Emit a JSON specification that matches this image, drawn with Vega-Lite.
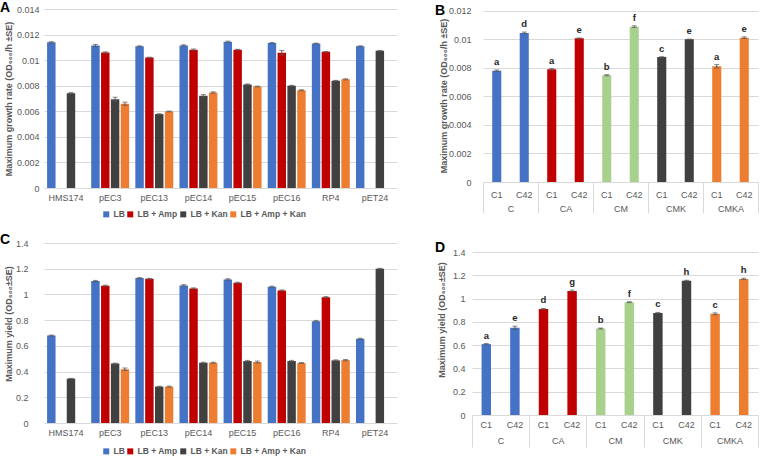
{
"$schema": "https://vega.github.io/schema/vega-lite/v6.json",
"padding": {"left": 0, "top": 1, "right": 0, "bottom": 0},
"background": "white",
"config": {
  "view": {"stroke": null},
  "font": "Liberation Sans",
  "axis": {"labelFont": "Liberation Sans", "titleFont": "Liberation Sans", "labelColor": "#595959", "titleColor": "#595959", "labelFontSize": 9, "titleFontSize": 9, "titleFontWeight": "bold", "gridColor": "#d9d9d9", "domainColor": "#d9d9d9", "ticks": false, "labelOverlap": false},
  "legend": {"labelFont": "Liberation Sans", "labelColor": "#595959", "labelFontSize": 8.5, "labelFontWeight": "bold"},
  "title": {"font": "Liberation Sans", "fontSize": 14, "fontWeight": "bold", "color": "#000000", "anchor": "start", "frame": "bounds", "baseline": "alphabetic"}
},
"datasets": {
  "rateA": [
    {"g": "HMS174", "s": "LB", "v": 0.01139, "lo": 0.01134, "hi": 0.01144},
    {"g": "HMS174", "s": "LB + Kan", "v": 0.00742, "lo": 0.00738, "hi": 0.00746},
    {"g": "pEC3", "s": "LB", "v": 0.01115, "lo": 0.01107, "hi": 0.01123},
    {"g": "pEC3", "s": "LB + Amp", "v": 0.0106, "lo": 0.01055, "hi": 0.01065},
    {"g": "pEC3", "s": "LB + Kan", "v": 0.00695, "lo": 0.0068, "hi": 0.0071},
    {"g": "pEC3", "s": "LB + Amp + Kan", "v": 0.00659, "lo": 0.00647, "hi": 0.00671},
    {"g": "pEC13", "s": "LB", "v": 0.01108, "lo": 0.01104, "hi": 0.01112},
    {"g": "pEC13", "s": "LB + Amp", "v": 0.0102, "lo": 0.01017, "hi": 0.01023},
    {"g": "pEC13", "s": "LB + Kan", "v": 0.00578, "lo": 0.00575, "hi": 0.00581},
    {"g": "pEC13", "s": "LB + Amp + Kan", "v": 0.00599, "lo": 0.00596, "hi": 0.00602},
    {"g": "pEC14", "s": "LB", "v": 0.01115, "lo": 0.0111, "hi": 0.0112},
    {"g": "pEC14", "s": "LB + Amp", "v": 0.01082, "lo": 0.01077, "hi": 0.01087},
    {"g": "pEC14", "s": "LB + Kan", "v": 0.00721, "lo": 0.00711, "hi": 0.00731},
    {"g": "pEC14", "s": "LB + Amp + Kan", "v": 0.00747, "lo": 0.00742, "hi": 0.00752},
    {"g": "pEC15", "s": "LB", "v": 0.01144, "lo": 0.01139, "hi": 0.01149},
    {"g": "pEC15", "s": "LB + Amp", "v": 0.01082, "lo": 0.01079, "hi": 0.01085},
    {"g": "pEC15", "s": "LB + Kan", "v": 0.0081, "lo": 0.00806, "hi": 0.00814},
    {"g": "pEC15", "s": "LB + Amp + Kan", "v": 0.00794, "lo": 0.00791, "hi": 0.00797},
    {"g": "pEC16", "s": "LB", "v": 0.01135, "lo": 0.01132, "hi": 0.01138},
    {"g": "pEC16", "s": "LB + Amp", "v": 0.01057, "lo": 0.01039, "hi": 0.01075},
    {"g": "pEC16", "s": "LB + Kan", "v": 0.008, "lo": 0.00797, "hi": 0.00803},
    {"g": "pEC16", "s": "LB + Amp + Kan", "v": 0.00764, "lo": 0.0076, "hi": 0.00768},
    {"g": "RP4", "s": "LB", "v": 0.0113, "lo": 0.01127, "hi": 0.01133},
    {"g": "RP4", "s": "LB + Amp", "v": 0.01065, "lo": 0.01062, "hi": 0.01068},
    {"g": "RP4", "s": "LB + Kan", "v": 0.00839, "lo": 0.00836, "hi": 0.00842},
    {"g": "RP4", "s": "LB + Amp + Kan", "v": 0.0085, "lo": 0.00846, "hi": 0.00854},
    {"g": "pET24", "s": "LB", "v": 0.01109, "lo": 0.01106, "hi": 0.01112},
    {"g": "pET24", "s": "LB + Kan", "v": 0.01073, "lo": 0.0107, "hi": 0.01076}
  ],
  "yieldC": [
    {"g": "HMS174", "s": "LB", "v": 0.68, "lo": 0.676, "hi": 0.684},
    {"g": "HMS174", "s": "LB + Kan", "v": 0.345, "lo": 0.343, "hi": 0.347},
    {"g": "pEC3", "s": "LB", "v": 1.104, "lo": 1.099, "hi": 1.109},
    {"g": "pEC3", "s": "LB + Amp", "v": 1.068, "lo": 1.064, "hi": 1.072},
    {"g": "pEC3", "s": "LB + Kan", "v": 0.462, "lo": 0.458, "hi": 0.466},
    {"g": "pEC3", "s": "LB + Amp + Kan", "v": 0.418, "lo": 0.408, "hi": 0.428},
    {"g": "pEC13", "s": "LB", "v": 1.127, "lo": 1.123, "hi": 1.131},
    {"g": "pEC13", "s": "LB + Amp", "v": 1.122, "lo": 1.119, "hi": 1.125},
    {"g": "pEC13", "s": "LB + Kan", "v": 0.283, "lo": 0.28, "hi": 0.286},
    {"g": "pEC13", "s": "LB + Amp + Kan", "v": 0.283, "lo": 0.279, "hi": 0.287},
    {"g": "pEC14", "s": "LB", "v": 1.07, "lo": 1.064, "hi": 1.076},
    {"g": "pEC14", "s": "LB + Amp", "v": 1.047, "lo": 1.043, "hi": 1.051},
    {"g": "pEC14", "s": "LB + Kan", "v": 0.469, "lo": 0.465, "hi": 0.473},
    {"g": "pEC14", "s": "LB + Amp + Kan", "v": 0.469, "lo": 0.465, "hi": 0.473},
    {"g": "pEC15", "s": "LB", "v": 1.117, "lo": 1.112, "hi": 1.122},
    {"g": "pEC15", "s": "LB + Amp", "v": 1.091, "lo": 1.087, "hi": 1.095},
    {"g": "pEC15", "s": "LB + Kan", "v": 0.482, "lo": 0.477, "hi": 0.487},
    {"g": "pEC15", "s": "LB + Amp + Kan", "v": 0.474, "lo": 0.466, "hi": 0.482},
    {"g": "pEC16", "s": "LB", "v": 1.06, "lo": 1.056, "hi": 1.064},
    {"g": "pEC16", "s": "LB + Amp", "v": 1.031, "lo": 1.027, "hi": 1.035},
    {"g": "pEC16", "s": "LB + Kan", "v": 0.482, "lo": 0.477, "hi": 0.487},
    {"g": "pEC16", "s": "LB + Amp + Kan", "v": 0.466, "lo": 0.462, "hi": 0.47},
    {"g": "RP4", "s": "LB", "v": 0.792, "lo": 0.786, "hi": 0.798},
    {"g": "RP4", "s": "LB + Amp", "v": 0.979, "lo": 0.975, "hi": 0.983},
    {"g": "RP4", "s": "LB + Kan", "v": 0.487, "lo": 0.483, "hi": 0.491},
    {"g": "RP4", "s": "LB + Amp + Kan", "v": 0.489, "lo": 0.484, "hi": 0.494},
    {"g": "pET24", "s": "LB", "v": 0.655, "lo": 0.651, "hi": 0.659},
    {"g": "pET24", "s": "LB + Kan", "v": 1.2, "lo": 1.197, "hi": 1.203}
  ],
  "rateB": [
    {"grp": "C", "k": "C C1", "v": 0.00781, "lo": 0.00776, "hi": 0.00786, "t": "a"},
    {"grp": "C", "k": "C C42", "v": 0.01046, "lo": 0.0104, "hi": 0.01052, "t": "d"},
    {"grp": "CA", "k": "CA C1", "v": 0.00791, "lo": 0.00786, "hi": 0.00796, "t": "a"},
    {"grp": "CA", "k": "CA C42", "v": 0.01008, "lo": 0.01005, "hi": 0.01011, "t": "e"},
    {"grp": "CM", "k": "CM C1", "v": 0.00749, "lo": 0.00745, "hi": 0.00753, "t": "b"},
    {"grp": "CM", "k": "CM C42", "v": 0.0109, "lo": 0.01084, "hi": 0.01096, "t": "f"},
    {"grp": "CMK", "k": "CMK C1", "v": 0.00877, "lo": 0.00875, "hi": 0.00879, "t": "c"},
    {"grp": "CMK", "k": "CMK C42", "v": 0.01001, "lo": 0.00999, "hi": 0.01003, "t": "e"},
    {"grp": "CMKA", "k": "CMKA C1", "v": 0.00812, "lo": 0.008, "hi": 0.00824, "t": "a"},
    {"grp": "CMKA", "k": "CMKA C42", "v": 0.01013, "lo": 0.01008, "hi": 0.01018, "t": "e"}
  ],
  "yieldD": [
    {"grp": "C", "k": "C C1", "v": 0.609, "lo": 0.604, "hi": 0.614, "t": "a"},
    {"grp": "C", "k": "C C42", "v": 0.749, "lo": 0.735, "hi": 0.763, "t": "e"},
    {"grp": "CA", "k": "CA C1", "v": 0.911, "lo": 0.907, "hi": 0.915, "t": "d"},
    {"grp": "CA", "k": "CA C42", "v": 1.066, "lo": 1.059, "hi": 1.073, "t": "g"},
    {"grp": "CM", "k": "CM C1", "v": 0.743, "lo": 0.739, "hi": 0.747, "t": "b"},
    {"grp": "CM", "k": "CM C42", "v": 0.969, "lo": 0.965, "hi": 0.973, "t": "f"},
    {"grp": "CMK", "k": "CMK C1", "v": 0.877, "lo": 0.873, "hi": 0.881, "t": "c"},
    {"grp": "CMK", "k": "CMK C42", "v": 1.154, "lo": 1.151, "hi": 1.157, "t": "h"},
    {"grp": "CMKA", "k": "CMKA C1", "v": 0.869, "lo": 0.861, "hi": 0.877, "t": "c"},
    {"grp": "CMKA", "k": "CMKA C42", "v": 1.169, "lo": 1.163, "hi": 1.175, "t": "h"}
  ]
},
"columns": 2,
"align": "none",
"spacing": {"row": 5, "column": 38},
"resolve": {"scale": {"x": "independent", "y": "independent", "color": "independent", "xOffset": "independent"}, "axis": {"x": "independent", "y": "independent"}, "legend": {"color": "independent"}},
"concat": [
  {
    "width": 353, "height": 179,
    "title": {"text": "A", "dx": -4, "offset": -10},
    "data": {"name": "rateA"},
    "encoding": {
      "x": {"field": "g", "type": "nominal", "sort": ["HMS174","pEC3","pEC13","pEC14","pEC15","pEC16","RP4","pET24"], "scale": {"paddingInner": 0.14, "paddingOuter": 0.07}, "axis": {"title": null, "labelAngle": 0, "labelPadding": 5, "domain": false}},
      "xOffset": {"field": "s", "type": "nominal", "scale": {"domain": ["LB","LB + Amp","LB + Kan","LB + Amp + Kan"], "paddingInner": 0.14}}
    },
    "layer": [
      {"mark": {"type": "bar"}, "encoding": {
        "y": {"field": "v", "type": "quantitative", "scale": {"domain": [0, 0.014], "nice": false}, "axis": {"title": "Maximum growth rate (OD₆₀₀/h ±SE)", "values": [0,0.002,0.004,0.006,0.008,0.01,0.012,0.014], "tickCount": 20, "labelOverlap": false, "format": "~g", "grid": true, "domain": false, "labelPadding": 5, "minExtent": 28, "maxExtent": 28, "titlePadding": 3}},
        "color": {"field": "s", "type": "nominal", "scale": {"domain": ["LB","LB + Amp","LB + Kan","LB + Amp + Kan"], "range": ["#4472C4","#C00000","#404040","#ED7D31"]}, "legend": {"orient": "none", "legendX": 58, "legendY": 201, "direction": "horizontal", "title": null, "symbolType": "square", "symbolSize": 36, "columnPadding": 1, "labelOffset": 3, "symbolStrokeWidth": 0}}
      }},
      {"mark": {"type": "rule", "color": "#595959", "strokeWidth": 1}, "encoding": {"y": {"field": "lo", "type": "quantitative", "scale": {"domain": [0, 0.014], "nice": false}}, "y2": {"field": "hi"}}},
      {"mark": {"type": "tick", "color": "#595959", "size": 5, "thickness": 1}, "encoding": {"y": {"field": "hi", "type": "quantitative", "scale": {"domain": [0, 0.014], "nice": false}}}},
      {"mark": {"type": "tick", "color": "#595959", "size": 5, "thickness": 1}, "encoding": {"y": {"field": "lo", "type": "quantitative", "scale": {"domain": [0, 0.014], "nice": false}}}}
    ]
  },
  {
    "width": 275, "height": 173,
    "title": {"text": "B", "dx": -4, "offset": -11},
    "data": {"name": "rateB"},
    "layer": [
      {
        "encoding": {"x": {"field": "k", "type": "nominal", "sort": null, "scale": {"paddingInner": 0, "paddingOuter": 0}, "axis": {"title": null, "labelAngle": 0, "labelPadding": 8, "domain": false, "labelExpr": "split(datum.label, ' ')[1]"}}},
        "layer": [
          {"mark": {"type": "bar", "width": {"band": 0.33}}, "encoding": {
            "y": {"field": "v", "type": "quantitative", "scale": {"domain": [0, 0.01214], "nice": false}, "axis": {"title": "Maximum growth rate (OD₆₀₀/h ±SE)", "values": [0,0.002,0.004,0.006,0.008,0.01,0.012], "tickCount": 20, "labelOverlap": false, "format": "~g", "grid": true, "domain": false, "labelPadding": 12, "minExtent": 35, "maxExtent": 35, "titlePadding": 0}},
            "color": {"field": "grp", "type": "nominal", "scale": {"domain": ["C","CA","CM","CMK","CMKA"], "range": ["#4472C4","#C00000","#A9D18E","#404040","#ED7D31"]}, "legend": null}
          }},
          {"mark": {"type": "rule", "color": "#595959", "strokeWidth": 1}, "encoding": {"y": {"field": "lo", "type": "quantitative", "scale": {"domain": [0, 0.01214], "nice": false}}, "y2": {"field": "hi"}}},
          {"mark": {"type": "tick", "color": "#595959", "size": 5, "thickness": 1}, "encoding": {"y": {"field": "hi", "type": "quantitative", "scale": {"domain": [0, 0.01214], "nice": false}}}},
          {"mark": {"type": "tick", "color": "#595959", "size": 5, "thickness": 1}, "encoding": {"y": {"field": "lo", "type": "quantitative", "scale": {"domain": [0, 0.01214], "nice": false}}}},
          {"mark": {"type": "text", "baseline": "bottom", "dy": -3, "fontSize": 9.5, "fontWeight": "bold", "color": "#262626", "font": "Liberation Sans"}, "encoding": {"y": {"field": "hi", "type": "quantitative", "scale": {"domain": [0, 0.01214], "nice": false}}, "text": {"field": "t"}}}
        ]
      },
      {"mark": {"type": "point", "opacity": 0}, "encoding": {"x": {"field": "grp", "type": "nominal", "sort": null, "scale": {"paddingInner": 0, "paddingOuter": 0}, "axis": {"orient": "bottom", "title": null, "labelAngle": 0, "domain": false, "ticks": true, "tickBand": "extent", "tickSize": 31, "tickColor": "#d9d9d9", "labelPadding": -9}}}}
    ],
    "resolve": {"scale": {"x": "independent"}, "axis": {"x": "independent"}}
  },
  {
    "width": 353, "height": 199,
    "title": {"text": "C", "dx": -4, "offset": -23},
    "data": {"name": "yieldC"},
    "encoding": {
      "x": {"field": "g", "type": "nominal", "sort": ["HMS174","pEC3","pEC13","pEC14","pEC15","pEC16","RP4","pET24"], "scale": {"paddingInner": 0.14, "paddingOuter": 0.07}, "axis": {"title": null, "labelAngle": 0, "labelPadding": 5, "domain": false}},
      "xOffset": {"field": "s", "type": "nominal", "scale": {"domain": ["LB","LB + Amp","LB + Kan","LB + Amp + Kan"], "paddingInner": 0.14}}
    },
    "layer": [
      {"mark": {"type": "bar"}, "encoding": {
        "y": {"field": "v", "type": "quantitative", "scale": {"domain": [0, 1.5478], "nice": false}, "axis": {"title": "Maximum yield (OD₆₀₀±SE)", "values": [0,0.2,0.4,0.6,0.8,1,1.2,1.4], "tickCount": 20, "labelOverlap": false, "format": "~g", "grid": true, "domain": false, "labelPadding": 16, "minExtent": 28, "maxExtent": 28, "titlePadding": 3}},
        "color": {"field": "s", "type": "nominal", "scale": {"domain": ["LB","LB + Amp","LB + Kan","LB + Amp + Kan"], "range": ["#4472C4","#C00000","#404040","#ED7D31"]}, "legend": {"orient": "none", "legendX": 58, "legendY": 223, "direction": "horizontal", "title": null, "symbolType": "square", "symbolSize": 36, "columnPadding": 1, "labelOffset": 3, "symbolStrokeWidth": 0}}
      }},
      {"mark": {"type": "rule", "color": "#595959", "strokeWidth": 1}, "encoding": {"y": {"field": "lo", "type": "quantitative", "scale": {"domain": [0, 1.5478], "nice": false}}, "y2": {"field": "hi"}}},
      {"mark": {"type": "tick", "color": "#595959", "size": 5, "thickness": 1}, "encoding": {"y": {"field": "hi", "type": "quantitative", "scale": {"domain": [0, 1.5478], "nice": false}}}},
      {"mark": {"type": "tick", "color": "#595959", "size": 5, "thickness": 1}, "encoding": {"y": {"field": "lo", "type": "quantitative", "scale": {"domain": [0, 1.5478], "nice": false}}}}
    ]
  },
  {
    "width": 286, "height": 191,
    "title": {"text": "D", "dx": -2, "offset": -31},
    "data": {"name": "yieldD"},
    "layer": [
      {
        "encoding": {"x": {"field": "k", "type": "nominal", "sort": null, "scale": {"paddingInner": 0, "paddingOuter": 0}, "axis": {"title": null, "labelAngle": 0, "labelPadding": 5, "domain": false, "labelExpr": "split(datum.label, ' ')[1]"}}},
        "layer": [
          {"mark": {"type": "bar", "width": {"band": 0.33}}, "encoding": {
            "y": {"field": "v", "type": "quantitative", "scale": {"domain": [0, 1.6405], "nice": false}, "axis": {"title": "Maximum yield (OD₆₀₀±SE)", "values": [0,0.2,0.4,0.6,0.8,1,1.2,1.4], "tickCount": 20, "labelOverlap": false, "format": "~g", "grid": true, "domain": false, "labelPadding": 7, "minExtent": 20, "maxExtent": 20, "titlePadding": 6}},
            "color": {"field": "grp", "type": "nominal", "scale": {"domain": ["C","CA","CM","CMK","CMKA"], "range": ["#4472C4","#C00000","#A9D18E","#404040","#ED7D31"]}, "legend": null}
          }},
          {"mark": {"type": "rule", "color": "#595959", "strokeWidth": 1}, "encoding": {"y": {"field": "lo", "type": "quantitative", "scale": {"domain": [0, 1.6405], "nice": false}}, "y2": {"field": "hi"}}},
          {"mark": {"type": "tick", "color": "#595959", "size": 5, "thickness": 1}, "encoding": {"y": {"field": "hi", "type": "quantitative", "scale": {"domain": [0, 1.6405], "nice": false}}}},
          {"mark": {"type": "tick", "color": "#595959", "size": 5, "thickness": 1}, "encoding": {"y": {"field": "lo", "type": "quantitative", "scale": {"domain": [0, 1.6405], "nice": false}}}},
          {"mark": {"type": "text", "baseline": "bottom", "dy": -3, "fontSize": 9.5, "fontWeight": "bold", "color": "#262626", "font": "Liberation Sans"}, "encoding": {"y": {"field": "hi", "type": "quantitative", "scale": {"domain": [0, 1.6405], "nice": false}}, "text": {"field": "t"}}}
        ]
      },
      {"mark": {"type": "point", "opacity": 0}, "encoding": {"x": {"field": "grp", "type": "nominal", "sort": null, "scale": {"paddingInner": 0, "paddingOuter": 0}, "axis": {"orient": "bottom", "title": null, "labelAngle": 0, "domain": false, "ticks": true, "tickBand": "extent", "tickSize": 32, "tickColor": "#d9d9d9", "labelPadding": -11}}}}
    ],
    "resolve": {"scale": {"x": "independent"}, "axis": {"x": "independent"}}
  }
]
}
